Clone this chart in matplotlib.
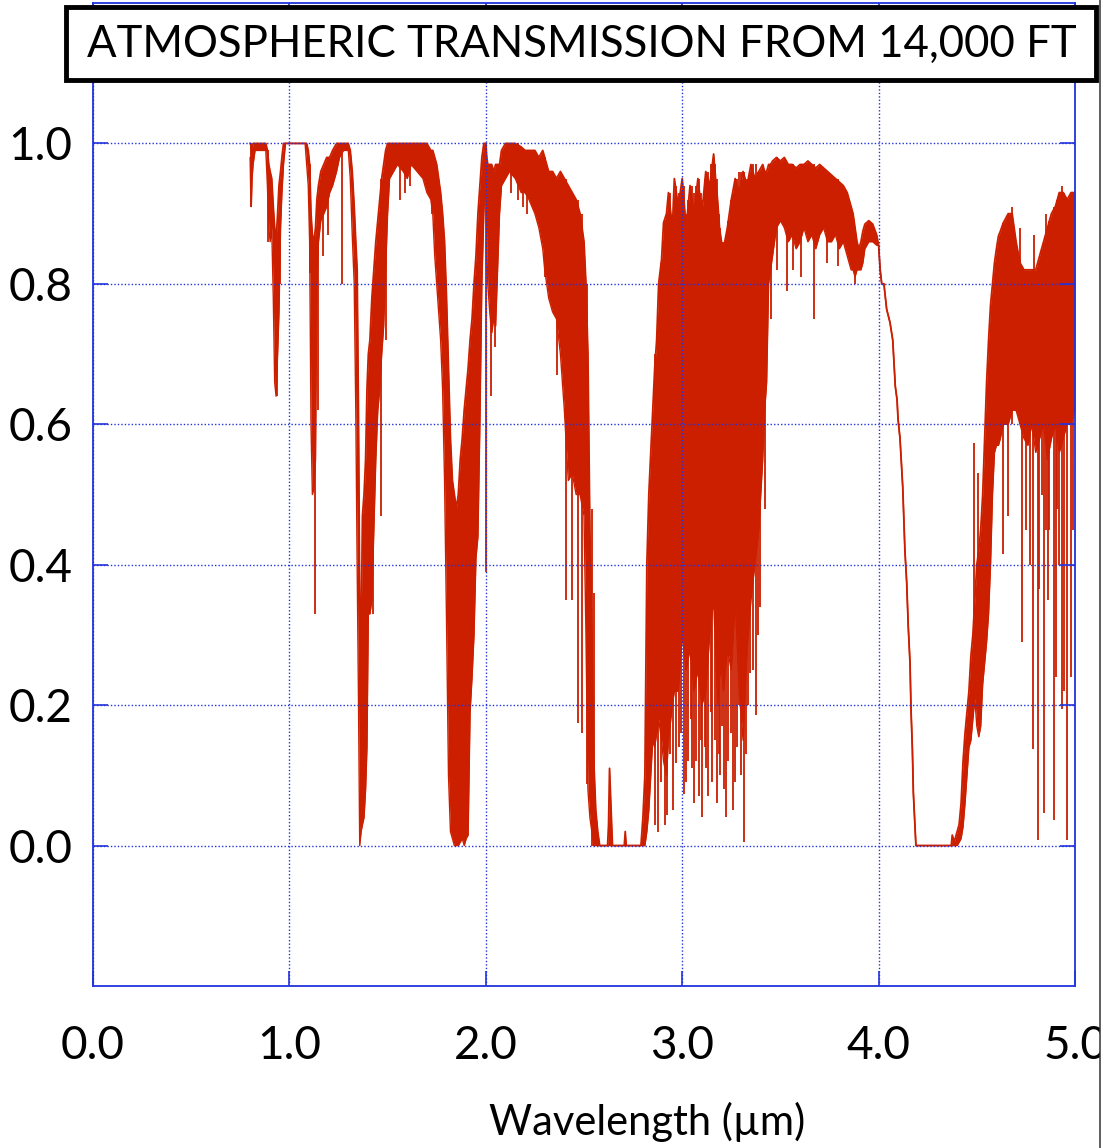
import matplotlib
matplotlib.use("Agg")
import matplotlib.pyplot as plt
from matplotlib.patches import Rectangle
from matplotlib.lines import Line2D

# transmission envelope: (wavelength um, low, high)
band_near_ir = [
    (0.800, 0.98, 1.00), (0.803, 0.93, 1.00), (0.806, 0.91, 0.99), (0.810, 0.95, 0.99),
    (0.815, 0.97, 1.00), (0.825, 0.99, 1.00), (0.880, 0.99, 1.00), (0.888, 0.94, 0.99),
    (0.895, 0.88, 0.97), (0.902, 0.86, 0.96), (0.910, 0.88, 0.95), (0.918, 0.78, 0.91),
    (0.925, 0.66, 0.88), (0.932, 0.64, 0.86), (0.940, 0.70, 0.90), (0.947, 0.76, 0.94),
    (0.955, 0.88, 0.96), (0.962, 0.93, 0.98), (0.970, 0.97, 1.00), (0.980, 1.00, 1.00),
    (1.080, 1.00, 1.00), (1.088, 0.97, 1.00), (1.096, 0.94, 0.99), (1.103, 0.86, 0.97),
    (1.110, 0.60, 0.90), (1.117, 0.50, 0.87), (1.125, 0.51, 0.86), (1.133, 0.55, 0.88),
    (1.140, 0.80, 0.92), (1.148, 0.86, 0.94), (1.160, 0.89, 0.96), (1.175, 0.90, 0.97),
    (1.190, 0.91, 0.98), (1.205, 0.93, 0.98), (1.220, 0.94, 0.99), (1.240, 0.96, 1.00),
    (1.255, 0.98, 1.00), (1.275, 0.99, 1.00), (1.300, 0.99, 1.00), (1.310, 0.95, 0.99),
    (1.320, 0.87, 0.96), (1.330, 0.80, 0.91), (1.338, 0.62, 0.86),
]

band_water_14_19 = [
    (1.345, 0.40, 0.82), (1.352, 0.20, 0.60), (1.358, 0.00, 0.35), (1.365, 0.02, 0.30),
    (1.372, 0.03, 0.47), (1.380, 0.04, 0.50), (1.388, 0.08, 0.55), (1.395, 0.14, 0.65),
    (1.402, 0.33, 0.70), (1.410, 0.33, 0.72), (1.420, 0.35, 0.78), (1.430, 0.45, 0.82),
    (1.440, 0.55, 0.86), (1.450, 0.62, 0.89), (1.460, 0.65, 0.92), (1.470, 0.70, 0.95),
    (1.480, 0.74, 0.97), (1.490, 0.82, 0.99), (1.500, 0.90, 1.00), (1.510, 0.95, 1.00),
    (1.530, 0.96, 1.00), (1.550, 0.97, 1.00), (1.580, 0.96, 1.00), (1.600, 0.95, 1.00),
    (1.620, 0.97, 1.00), (1.650, 0.96, 1.00), (1.680, 0.95, 1.00), (1.700, 0.93, 1.00),
    (1.720, 0.92, 0.99), (1.730, 0.90, 0.99), (1.740, 0.84, 0.98), (1.750, 0.80, 0.97),
    (1.760, 0.76, 0.95), (1.770, 0.72, 0.93), (1.780, 0.65, 0.90), (1.790, 0.52, 0.86),
    (1.800, 0.32, 0.78), (1.810, 0.10, 0.68), (1.820, 0.02, 0.58), (1.830, 0.01, 0.52),
    (1.840, 0.00, 0.50), (1.850, 0.00, 0.48), (1.860, 0.00, 0.50), (1.870, 0.005, 0.55),
    (1.880, 0.01, 0.58), (1.890, 0.00, 0.62), (1.900, 0.01, 0.65), (1.910, 0.015, 0.68),
    (1.920, 0.19, 0.72), (1.930, 0.24, 0.75), (1.940, 0.30, 0.80), (1.950, 0.41, 0.84),
    (1.960, 0.44, 0.90), (1.970, 0.60, 0.94), (1.980, 0.80, 0.98), (1.990, 0.90, 1.00),
    (2.000, 0.96, 1.00),
]

band_k_window = [
    (2.005, 0.85, 0.98), (2.010, 0.80, 0.97), (2.020, 0.76, 0.97), (2.030, 0.73, 0.97),
    (2.040, 0.75, 0.96), (2.050, 0.74, 0.97), (2.060, 0.82, 0.97), (2.070, 0.90, 0.97),
    (2.080, 0.94, 0.99), (2.100, 0.95, 1.00), (2.120, 0.96, 1.00), (2.150, 0.95, 1.00),
    (2.180, 0.93, 0.995), (2.200, 0.93, 0.99), (2.220, 0.92, 0.99), (2.250, 0.90, 0.99),
    (2.270, 0.88, 0.98), (2.290, 0.85, 0.99), (2.300, 0.82, 0.98), (2.310, 0.80, 0.97),
    (2.320, 0.78, 0.96), (2.340, 0.76, 0.96), (2.360, 0.75, 0.95), (2.380, 0.70, 0.96),
    (2.400, 0.62, 0.95), (2.420, 0.52, 0.94), (2.440, 0.53, 0.93), (2.460, 0.50, 0.92),
    (2.480, 0.50, 0.90), (2.500, 0.47, 0.86), (2.510, 0.30, 0.80), (2.520, 0.08, 0.70),
    (2.530, 0.04, 0.45), (2.540, 0.02, 0.30), (2.550, 0.00, 0.12), (2.560, 0.00, 0.05),
    (2.570, 0.00, 0.02), (2.580, 0.00, 0.00), (2.620, 0.00, 0.00), (2.625, 0.00, 0.03),
    (2.630, 0.00, 0.11), (2.638, 0.00, 0.05), (2.645, 0.00, 0.00), (2.705, 0.00, 0.00),
    (2.710, 0.00, 0.02), (2.715, 0.00, 0.00), (2.790, 0.00, 0.00),
]

band_l_window = [
    (2.800, 0.00, 0.04), (2.810, 0.00, 0.10), (2.820, 0.02, 0.40), (2.830, 0.05, 0.50),
    (2.840, 0.10, 0.56), (2.850, 0.15, 0.62), (2.860, 0.14, 0.68), (2.870, 0.16, 0.72),
    (2.880, 0.18, 0.80), (2.895, 0.15, 0.835), (2.905, 0.12, 0.887), (2.920, 0.10, 0.90),
    (2.930, 0.15, 0.93), (2.950, 0.20, 0.88), (2.960, 0.22, 0.95), (2.980, 0.22, 0.91),
    (3.000, 0.30, 0.95), (3.020, 0.25, 0.88), (3.040, 0.28, 0.94), (3.060, 0.22, 0.90),
    (3.080, 0.25, 0.95), (3.100, 0.20, 0.90), (3.120, 0.22, 0.96), (3.140, 0.30, 0.94),
    (3.160, 0.35, 0.985), (3.170, 0.28, 0.95), (3.180, 0.20, 0.92), (3.190, 0.24, 0.88),
    (3.200, 0.25, 0.86), (3.210, 0.22, 0.85), (3.230, 0.28, 0.88), (3.250, 0.25, 0.92),
    (3.270, 0.35, 0.95), (3.290, 0.22, 0.93), (3.310, 0.15, 0.96), (3.330, 0.28, 0.94),
    (3.350, 0.35, 0.97), (3.370, 0.40, 0.95), (3.390, 0.45, 0.96), (3.410, 0.55, 0.97),
    (3.420, 0.62, 0.96), (3.430, 0.66, 0.96), (3.440, 0.80, 0.97), (3.450, 0.82, 0.97),
    (3.460, 0.84, 0.975), (3.480, 0.88, 0.98), (3.500, 0.89, 0.975), (3.520, 0.88, 0.98),
    (3.540, 0.86, 0.97), (3.560, 0.87, 0.97), (3.580, 0.85, 0.965), (3.600, 0.86, 0.97),
    (3.620, 0.88, 0.97), (3.640, 0.86, 0.975), (3.660, 0.87, 0.97), (3.680, 0.85, 0.965),
    (3.700, 0.87, 0.97), (3.720, 0.88, 0.965), (3.740, 0.86, 0.96), (3.760, 0.86, 0.955),
    (3.780, 0.87, 0.95), (3.800, 0.85, 0.945), (3.820, 0.86, 0.94), (3.840, 0.84, 0.93),
    (3.860, 0.82, 0.91), (3.870, 0.82, 0.90), (3.880, 0.81, 0.88), (3.890, 0.82, 0.86),
    (3.900, 0.82, 0.85), (3.910, 0.82, 0.86), (3.920, 0.83, 0.875), (3.930, 0.85, 0.885),
    (3.950, 0.86, 0.89), (3.970, 0.86, 0.885), (3.990, 0.855, 0.87),
]

# CO2 edge near 4.2 um is a single clean line
band_co2_edge = [
    (4.000, 0.855, 0.855), (4.008, 0.82, 0.82), (4.016, 0.80, 0.80), (4.027, 0.80, 0.80),
    (4.041, 0.764, 0.764), (4.058, 0.745, 0.745), (4.072, 0.72, 0.72), (4.085, 0.654, 0.654),
    (4.094, 0.635, 0.635), (4.099, 0.607, 0.607), (4.109, 0.58, 0.58), (4.123, 0.51, 0.51),
    (4.134, 0.42, 0.42), (4.143, 0.375, 0.375), (4.151, 0.312, 0.312), (4.160, 0.26, 0.26),
    (4.165, 0.194, 0.194), (4.172, 0.137, 0.137), (4.177, 0.075, 0.075), (4.185, 0.027, 0.027),
    (4.190, 0.00, 0.00),
]

band_m_window = [
    (4.370, 0.00, 0.00), (4.375, 0.00, 0.015), (4.385, 0.00, 0.005), (4.400, 0.00, 0.02),
    (4.410, 0.005, 0.03), (4.420, 0.01, 0.06), (4.430, 0.027, 0.12), (4.440, 0.06, 0.16),
    (4.450, 0.10, 0.19), (4.460, 0.14, 0.22), (4.470, 0.15, 0.27), (4.480, 0.18, 0.30),
    (4.490, 0.21, 0.35), (4.500, 0.17, 0.40), (4.510, 0.155, 0.42), (4.520, 0.17, 0.45),
    (4.530, 0.23, 0.50), (4.540, 0.26, 0.58), (4.550, 0.29, 0.66), (4.560, 0.33, 0.72),
    (4.570, 0.40, 0.77), (4.580, 0.50, 0.80), (4.590, 0.56, 0.83), (4.600, 0.57, 0.85),
    (4.610, 0.57, 0.868), (4.620, 0.58, 0.875), (4.635, 0.60, 0.887), (4.660, 0.60, 0.90),
    (4.680, 0.62, 0.90), (4.700, 0.62, 0.86), (4.720, 0.60, 0.83), (4.740, 0.58, 0.82),
    (4.760, 0.57, 0.82), (4.780, 0.60, 0.82), (4.800, 0.56, 0.82), (4.820, 0.58, 0.84),
    (4.840, 0.60, 0.86), (4.860, 0.55, 0.88), (4.880, 0.58, 0.90), (4.900, 0.60, 0.91),
    (4.920, 0.56, 0.93), (4.940, 0.58, 0.93), (4.960, 0.60, 0.92), (4.980, 0.60, 0.93),
    (5.000, 0.62, 0.93),
]

# single absorption lines: (wavelength, bottom, top)
lines_short = [
    (0.804, 0.91, 1.00), (0.889, 0.86, 0.99), (0.935, 0.64, 0.86), (0.952, 0.80, 0.95),
    (1.104, 0.816, 0.97), (1.128, 0.33, 0.86), (1.145, 0.62, 0.92), (1.170, 0.84, 0.96),
    (1.195, 0.87, 0.98), (1.268, 0.80, 1.00), (1.425, 0.33, 0.80), (1.468, 0.47, 0.95),
    (1.490, 0.72, 0.99), (1.565, 0.92, 1.00), (1.590, 0.93, 1.00), (1.615, 0.94, 1.00),
    (1.725, 0.90, 0.99), (2.002, 0.39, 1.00), (2.025, 0.64, 0.97), (2.045, 0.71, 0.96),
    (2.130, 0.93, 1.00), (2.165, 0.92, 1.00), (2.190, 0.91, 0.99), (2.210, 0.90, 0.99),
    (2.300, 0.81, 0.98), (2.362, 0.67, 0.95), (2.410, 0.35, 0.95), (2.439, 0.35, 0.93),
    (2.470, 0.175, 0.92), (2.490, 0.16, 0.90), (2.515, 0.087, 0.80), (2.539, 0.00, 0.48),
    (2.553, 0.00, 0.36),
]

lines_long = [
    (2.860, 0.03, 0.70), (2.875, 0.02, 0.75), (2.890, 0.09, 0.83), (2.910, 0.03, 0.89),
    (2.925, 0.044, 0.90), (2.940, 0.13, 0.93), (2.955, 0.05, 0.90), (2.970, 0.118, 0.94),
    (2.985, 0.14, 0.93), (2.995, 0.16, 0.93), (3.010, 0.073, 0.94), (3.020, 0.09, 0.90),
    (3.030, 0.12, 0.92), (3.045, 0.18, 0.93), (3.050, 0.11, 0.94), (3.060, 0.06, 0.93),
    (3.070, 0.12, 0.94), (3.085, 0.07, 0.95), (3.095, 0.15, 0.93), (3.100, 0.04, 0.92),
    (3.115, 0.14, 0.95), (3.120, 0.11, 0.95), (3.130, 0.07, 0.96), (3.145, 0.19, 0.97),
    (3.150, 0.09, 0.97), (3.165, 0.15, 0.97), (3.175, 0.06, 0.95), (3.185, 0.13, 0.90),
    (3.195, 0.10, 0.88), (3.205, 0.17, 0.86), (3.215, 0.08, 0.86), (3.225, 0.04, 0.87),
    (3.235, 0.12, 0.89), (3.250, 0.16, 0.92), (3.260, 0.05, 0.93), (3.270, 0.09, 0.95),
    (3.280, 0.14, 0.95), (3.290, 0.20, 0.96), (3.300, 0.10, 0.96), (3.313, 0.005, 0.96),
    (3.325, 0.13, 0.95), (3.335, 0.20, 0.95), (3.345, 0.246, 0.96), (3.360, 0.25, 0.97),
    (3.375, 0.186, 0.97), (3.385, 0.30, 0.96), (3.395, 0.34, 0.96), (3.420, 0.48, 0.96),
    (3.450, 0.75, 0.97), (3.481, 0.82, 0.98), (3.532, 0.79, 0.97), (3.566, 0.82, 0.97),
    (3.603, 0.81, 0.97), (3.671, 0.75, 0.97), (3.737, 0.83, 0.96), (3.792, 0.825, 0.95),
    (3.880, 0.80, 0.88), (4.488, 0.22, 0.574), (4.505, 0.17, 0.53), (4.634, 0.415, 0.887),
    (4.660, 0.47, 0.90), (4.680, 0.60, 0.91), (4.720, 0.60, 0.88), (4.730, 0.29, 0.82),
    (4.750, 0.45, 0.81), (4.770, 0.40, 0.81), (4.785, 0.137, 0.82), (4.790, 0.60, 0.87),
    (4.810, 0.008, 0.82), (4.815, 0.365, 0.83), (4.830, 0.50, 0.85), (4.840, 0.047, 0.86),
    (4.850, 0.45, 0.90), (4.865, 0.35, 0.88), (4.870, 0.45, 0.89), (4.895, 0.037, 0.91),
    (4.905, 0.24, 0.91), (4.910, 0.48, 0.92), (4.920, 0.40, 0.93), (4.935, 0.194, 0.94),
    (4.945, 0.22, 0.93), (4.960, 0.008, 0.92), (4.980, 0.24, 0.93), (4.990, 0.45, 0.93),
]

x_ticks = [0, 1, 2, 3, 4, 5]
x_tick_labels = ["0.0", "1.0", "2.0", "3.0", "4.0", "5.0"]
y_ticks = [0.0, 0.2, 0.4, 0.6, 0.8, 1.0]
y_tick_labels = ["0.0", "0.2", "0.4", "0.6", "0.8", "1.0"]

TITLE = "ATMOSPHERIC TRANSMISSION FROM 14,000 FT"
RED = "#cc1f00"
BLUE = "#2233dd"
FONT = "Lato"

W, H = 1110, 1148
fig = plt.figure(figsize=(W / 100, H / 100), dpi=100)
ax = fig.add_axes([93 / W, 1 - 986 / H, (1075 - 93) / W, (986 - 3) / H])

rows = (band_near_ir + band_water_14_19 + band_k_window + band_l_window
        + band_co2_edge + band_m_window)
wl = [r[0] for r in rows]
t_lo = [r[1] for r in rows]
t_hi = [r[2] for r in rows]

ax.fill_between(wl, t_lo, t_hi, color=RED, lw=0)
ax.plot(wl, t_hi, color=RED, lw=1.3)
ax.plot(wl, t_lo, color=RED, lw=1.0)

spikes = lines_short + lines_long
ax.vlines([s[0] for s in spikes], [s[1] for s in spikes], [s[2] for s in spikes],
          color=RED, lw=1.3)

ax.set_xlim(0, 5)
ax.set_ylim(-0.2, 1.2)
ax.set_xticks(x_ticks)
ax.set_xticklabels(x_tick_labels)
ax.set_yticks(y_ticks)
ax.set_yticklabels(y_tick_labels)
ax.set_axisbelow(False)
ax.grid(True, color=BLUE, ls=(0, (1, 1.5)), lw=1.0)
ax.tick_params(direction="in", length=11, width=1.2, color=BLUE,
               left=True, right=True, top=True, bottom=True, labelsize=33)
ax.tick_params(axis="x", pad=28)
ax.tick_params(axis="y", pad=15)
for lab in ax.get_xticklabels() + ax.get_yticklabels():
    lab.set_family(FONT)
for sp in ax.spines.values():
    sp.set_color(BLUE)
    sp.set_linewidth(1.3)

fig.text(647 / W, 1 - 1135 / H, "Wavelength (µm)", ha="center", va="baseline",
         fontsize=30, family=FONT)

# boxed title sitting over the top of the frame
fig.add_artist(Rectangle((65.5 / W, 1 - 79.5 / H), (1095.5 - 65.5) / W, 72 / H,
                         transform=fig.transFigure, facecolor="white",
                         edgecolor="black", lw=3.5, zorder=5))
fig.text(582 / W, 1 - 44 / H, TITLE, ha="center", va="center", fontsize=31.5,
         family=FONT, zorder=6)

# right edge of the original frame cuts the last tick label
fig.add_artist(Rectangle((1100 / W, 0), 10 / W, 1, transform=fig.transFigure,
                         facecolor="white", edgecolor="none", zorder=9))
fig.add_artist(Line2D([1099.5 / W, 1099.5 / W], [0, 1], transform=fig.transFigure,
                      color="#333333", lw=1.1, zorder=10))

fig.savefig("out.png", dpi=100)
